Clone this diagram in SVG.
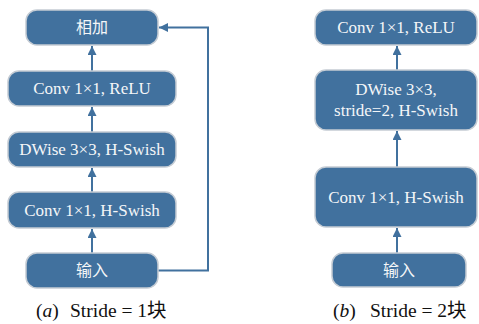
<svg xmlns="http://www.w3.org/2000/svg" width="479" height="324" viewBox="0 0 479 324">
<style>
.box{fill:#41719E;stroke:#C5CCD4;stroke-width:1.5}
.t{font-family:"Liberation Serif","Noto Sans CJK SC",serif;font-size:17px;fill:#F4F6F8;text-anchor:middle}
.c{font-family:"Noto Sans CJK SC",sans-serif;font-size:16px;fill:#F4F6F8;text-anchor:middle}
.cap{font-family:"Liberation Serif","Noto Sans CJK SC",serif;font-size:19.5px;fill:#111}
.ln{fill:none;stroke:#41719E;stroke-width:2}
</style>
<defs>
<marker id="ah" viewBox="0 0 10 10" refX="10" refY="5" markerWidth="4.5" markerHeight="4.5" orient="auto" markerUnits="strokeWidth">
<path d="M0,0 L10,5 L0,10 z" fill="#41719E"/>
</marker>
</defs>
<g id="connectors">
<line class="ln" x1="92" y1="253" x2="92" y2="229" marker-end="url(#ah)"/>
<line class="ln" x1="92" y1="192" x2="92" y2="168" marker-end="url(#ah)"/>
<line class="ln" x1="92" y1="132" x2="92" y2="107" marker-end="url(#ah)"/>
<line class="ln" x1="92" y1="71" x2="92" y2="46" marker-end="url(#ah)"/>
<polyline class="ln" points="158,270.5 208,270.5 208,27.5 159,27.5" marker-end="url(#ah)"/>
<line class="ln" x1="397" y1="253" x2="397" y2="228" marker-end="url(#ah)"/>
<line class="ln" x1="397" y1="167" x2="397" y2="131" marker-end="url(#ah)"/>
<line class="ln" x1="397" y1="70" x2="397" y2="46" marker-end="url(#ah)"/>
</g>
<g id="a_add"><rect class="box" x="26" y="10" width="132" height="35" rx="11"/><text class="c" x="92" y="33">相加</text></g>
<g id="a_conv_relu"><rect class="box" x="8" y="71" width="168" height="35" rx="11"/><text class="t" x="92" y="94">Conv 1×1, ReLU</text></g>
<g id="a_dwise"><rect class="box" x="8" y="132" width="168" height="35" rx="11"/><text class="t" x="92" y="155">DWise 3×3, H-Swish</text></g>
<g id="a_conv_hswish"><rect class="box" x="8" y="192" width="168" height="36" rx="11"/><text class="t" x="92" y="215.5">Conv 1×1, H-Swish</text></g>
<g id="a_input"><rect class="box" x="26" y="253" width="132" height="35" rx="11"/><text class="c" x="92" y="276">输入</text></g>
<g id="b_conv_relu"><rect class="box" x="315" y="10" width="162" height="35" rx="11"/><text class="t" x="396" y="33">Conv 1×1, ReLU</text></g>
<g id="b_dwise"><rect class="box" x="315" y="70" width="162" height="60" rx="11"/><text class="t" x="396" y="95">DWise 3×3,</text><text class="t" x="396" y="116">stride=2, H-Swish</text></g>
<g id="b_conv_hswish"><rect class="box" x="315" y="167" width="162" height="60" rx="11"/><text class="t" x="396" y="203">Conv 1×1, H-Swish</text></g>
<g id="b_input"><rect class="box" x="332" y="253" width="134" height="34" rx="11"/><text class="c" x="399" y="276">输入</text></g>
<g id="captions">
<text class="cap" x="36" y="317">(<tspan font-style="italic">a</tspan>)</text>
<text class="cap" x="70" y="317">Stride = 1块</text>
<text class="cap" x="333" y="317">(<tspan font-style="italic">b</tspan>)</text>
<text class="cap" x="370" y="317">Stride = 2块</text>
</g>
</svg>
